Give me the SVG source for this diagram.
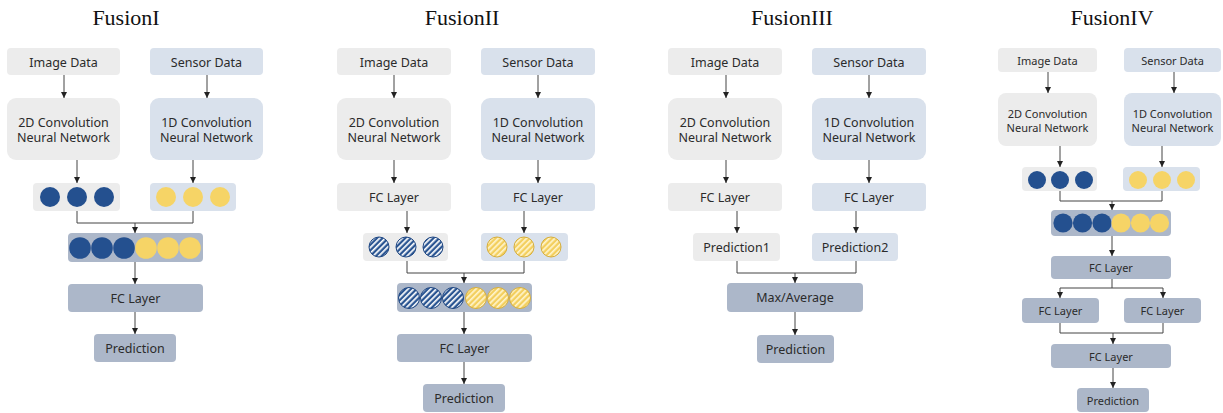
<svg xmlns="http://www.w3.org/2000/svg" width="1223" height="413" viewBox="0 0 1223 413">
  <style>
    .title { font-family: "Liberation Serif", "Times New Roman", serif; font-size: 22px; fill: #111; text-anchor: middle; }
    .lbl { font-family: "Noto Sans", "Open Sans", sans-serif; font-size: 12.5px; fill: #2b2b2b; text-anchor: middle; dominant-baseline: central; }
    .sm { font-size: 11px; }
    .gray { fill: #ECECEC; }
    .lblue { fill: #D9E1EC; }
    .dark { fill: #ACB7C9; }
    .cb { fill: #24508F; }
    .cy { fill: #F6D466; }
    .hb { fill: url(#hatchBlue); stroke: #1F4783; stroke-width: 1; }
    .hy { fill: url(#hatchYellow); stroke: #D6AE3C; stroke-width: 1; }
    .conn path { fill: none; stroke: #444; stroke-width: 1; }
    .arr { marker-end: url(#arrow); }
  </style>
  <defs>
    <marker id="arrow" viewBox="0 0 6 6" refX="6" refY="3" markerWidth="6" markerHeight="6" markerUnits="userSpaceOnUse" orient="auto">
      <path d="M0,0 L6,3 L0,6 z" fill="#222"/>
    </marker>
    <pattern id="hatchBlue" width="4" height="4" patternUnits="userSpaceOnUse" patternTransform="rotate(45)">
      <rect width="4" height="4" fill="#2A5592"/>
      <rect width="1.7" height="4" fill="#FFFFFF"/>
    </pattern>
    <pattern id="hatchYellow" width="4" height="4" patternUnits="userSpaceOnUse" patternTransform="rotate(45)">
      <rect width="4" height="4" fill="#F3CF5E"/>
      <rect width="1.7" height="4" fill="#FFF4CC"/>
    </pattern>
  </defs>

  <rect width="1223" height="413" fill="#FFFFFF"/>

  <!-- titles -->
  <text class="title" x="126" y="25">FusionI</text>
  <text class="title" x="462" y="25">FusionII</text>
  <text class="title" x="792" y="25">FusionIII</text>
  <text class="title" x="1112" y="25">FusionIV</text>

  <!-- ===== Fusion I ===== -->
  <g id="f1-image"><rect class="gray" x="7" y="48" width="113" height="27" rx="4"/><text class="lbl" x="63.5" y="62">Image Data</text></g>
  <g id="f1-sensor"><rect class="lblue" x="150" y="48" width="113" height="27" rx="4"/><text class="lbl" x="206.5" y="62">Sensor Data</text></g>
  <g id="f1-cnn2d"><rect class="gray" x="7" y="98" width="113" height="62" rx="9"/><text class="lbl" x="63.5" y="122">2D Convolution</text><text class="lbl" x="63.5" y="137">Neural Network</text></g>
  <g id="f1-cnn1d"><rect class="lblue" x="150" y="98" width="113" height="62" rx="9"/><text class="lbl" x="206.5" y="122">1D Convolution</text><text class="lbl" x="206.5" y="137">Neural Network</text></g>
  <g id="f1-featA"><rect class="gray" x="33" y="183" width="87" height="28" rx="4"/><circle class="cb" cx="50" cy="197" r="10"/><circle class="cb" cx="77" cy="197" r="10"/><circle class="cb" cx="104" cy="197" r="10"/></g>
  <g id="f1-featB"><rect class="lblue" x="150" y="183" width="86" height="28" rx="4"/><circle class="cy" cx="166" cy="197" r="10"/><circle class="cy" cx="193" cy="197" r="10"/><circle class="cy" cx="220" cy="197" r="10"/></g>
  <g id="f1-concat"><rect class="dark" x="68" y="233" width="135" height="29" rx="4"/>
    <circle class="cb" cx="80" cy="248" r="10.8"/><circle class="cb" cx="102" cy="248" r="10.8"/><circle class="cb" cx="124" cy="248" r="10.8"/>
    <circle class="cy" cx="146" cy="248" r="10.8"/><circle class="cy" cx="168" cy="248" r="10.8"/><circle class="cy" cx="190" cy="248" r="10.8"/></g>
  <g id="f1-fc"><rect class="dark" x="68" y="284" width="135" height="28" rx="4"/><text class="lbl" x="135.5" y="298">FC Layer</text></g>
  <g id="f1-pred"><rect class="dark" x="94" y="334" width="82" height="28" rx="4"/><text class="lbl" x="135" y="348">Prediction</text></g>

  <!-- ===== Fusion II ===== -->
  <g id="f2-image"><rect class="gray" x="337" y="48" width="114" height="27" rx="4"/><text class="lbl" x="394" y="62">Image Data</text></g>
  <g id="f2-sensor"><rect class="lblue" x="481" y="48" width="114" height="27" rx="4"/><text class="lbl" x="538" y="62">Sensor Data</text></g>
  <g id="f2-cnn2d"><rect class="gray" x="337" y="98" width="114" height="62" rx="9"/><text class="lbl" x="394" y="122">2D Convolution</text><text class="lbl" x="394" y="137">Neural Network</text></g>
  <g id="f2-cnn1d"><rect class="lblue" x="481" y="98" width="114" height="62" rx="9"/><text class="lbl" x="538" y="122">1D Convolution</text><text class="lbl" x="538" y="137">Neural Network</text></g>
  <g id="f2-fcA"><rect class="gray" x="337" y="183" width="114" height="28" rx="4"/><text class="lbl" x="394" y="197">FC Layer</text></g>
  <g id="f2-fcB"><rect class="lblue" x="481" y="183" width="114" height="28" rx="4"/><text class="lbl" x="538" y="197">FC Layer</text></g>
  <g id="f2-featA"><rect class="gray" x="363" y="233" width="85" height="28" rx="4"/><circle class="hb" cx="379" cy="247" r="10"/><circle class="hb" cx="406" cy="247" r="10"/><circle class="hb" cx="433" cy="247" r="10"/></g>
  <g id="f2-featB"><rect class="lblue" x="481" y="233" width="87" height="28" rx="4"/><circle class="hy" cx="497" cy="247" r="10"/><circle class="hy" cx="524" cy="247" r="10"/><circle class="hy" cx="551" cy="247" r="10"/></g>
  <g id="f2-concat"><rect class="dark" x="397" y="283" width="135" height="29" rx="4"/>
    <circle class="hb" cx="409" cy="298" r="10.5"/><circle class="hb" cx="431" cy="298" r="10.5"/><circle class="hb" cx="453" cy="298" r="10.5"/>
    <circle class="hy" cx="476" cy="298" r="10.5"/><circle class="hy" cx="498" cy="298" r="10.5"/><circle class="hy" cx="520" cy="298" r="10.5"/></g>
  <g id="f2-fc"><rect class="dark" x="397" y="334" width="135" height="28" rx="4"/><text class="lbl" x="464.5" y="348">FC Layer</text></g>
  <g id="f2-pred"><rect class="dark" x="423" y="384" width="82" height="28" rx="4"/><text class="lbl" x="464" y="398">Prediction</text></g>

  <!-- ===== Fusion III ===== -->
  <g id="f3-image"><rect class="gray" x="668" y="48" width="114" height="27" rx="4"/><text class="lbl" x="725" y="62">Image Data</text></g>
  <g id="f3-sensor"><rect class="lblue" x="812" y="48" width="114" height="27" rx="4"/><text class="lbl" x="869" y="62">Sensor Data</text></g>
  <g id="f3-cnn2d"><rect class="gray" x="668" y="98" width="114" height="62" rx="9"/><text class="lbl" x="725" y="122">2D Convolution</text><text class="lbl" x="725" y="137">Neural Network</text></g>
  <g id="f3-cnn1d"><rect class="lblue" x="812" y="98" width="114" height="62" rx="9"/><text class="lbl" x="869" y="122">1D Convolution</text><text class="lbl" x="869" y="137">Neural Network</text></g>
  <g id="f3-fcA"><rect class="gray" x="668" y="183" width="114" height="28" rx="4"/><text class="lbl" x="725" y="197">FC Layer</text></g>
  <g id="f3-fcB"><rect class="lblue" x="812" y="183" width="114" height="28" rx="4"/><text class="lbl" x="869" y="197">FC Layer</text></g>
  <g id="f3-pred1"><rect class="gray" x="693" y="233" width="87" height="28" rx="4"/><text class="lbl" x="736.5" y="247">Prediction1</text></g>
  <g id="f3-pred2"><rect class="lblue" x="812" y="233" width="86" height="28" rx="4"/><text class="lbl" x="855" y="247">Prediction2</text></g>
  <g id="f3-merge"><rect class="dark" x="727" y="283" width="136" height="29" rx="4"/><text class="lbl" x="795" y="297.5">Max/Average</text></g>
  <g id="f3-pred"><rect class="dark" x="757" y="335" width="77" height="28" rx="4"/><text class="lbl" x="795.5" y="349">Prediction</text></g>

  <!-- ===== Fusion IV ===== -->
  <g id="f4-image"><rect class="gray" x="998" y="48" width="99" height="24" rx="4"/><text class="lbl sm" x="1047.5" y="60">Image Data</text></g>
  <g id="f4-sensor"><rect class="lblue" x="1124" y="48" width="97" height="24" rx="4"/><text class="lbl sm" x="1172.5" y="60">Sensor Data</text></g>
  <g id="f4-cnn2d"><rect class="gray" x="998" y="93" width="99" height="53" rx="8"/><text class="lbl sm" x="1047.5" y="113">2D Convolution</text><text class="lbl sm" x="1047.5" y="127">Neural Network</text></g>
  <g id="f4-cnn1d"><rect class="lblue" x="1124" y="93" width="97" height="53" rx="8"/><text class="lbl sm" x="1172.5" y="113">1D Convolution</text><text class="lbl sm" x="1172.5" y="127">Neural Network</text></g>
  <g id="f4-featA"><rect class="gray" x="1022" y="167" width="75" height="24" rx="4"/><circle class="cb" cx="1037" cy="180" r="9"/><circle class="cb" cx="1060" cy="180" r="9"/><circle class="cb" cx="1084" cy="180" r="9"/></g>
  <g id="f4-featB"><rect class="lblue" x="1123" y="167" width="77" height="24" rx="4"/><circle class="cy" cx="1138" cy="180" r="9"/><circle class="cy" cx="1162" cy="180" r="9"/><circle class="cy" cx="1186" cy="180" r="9"/></g>
  <g id="f4-concat"><rect class="dark" x="1051" y="210" width="120" height="26" rx="4"/>
    <circle class="cb" cx="1063" cy="223" r="9.6"/><circle class="cb" cx="1082.5" cy="223" r="9.6"/><circle class="cb" cx="1102" cy="223" r="9.6"/>
    <circle class="cy" cx="1121" cy="223" r="9.6"/><circle class="cy" cx="1140.5" cy="223" r="9.6"/><circle class="cy" cx="1159.5" cy="223" r="9.6"/></g>
  <g id="f4-fc1"><rect class="dark" x="1051" y="256" width="120" height="23" rx="4"/><text class="lbl sm" x="1111" y="267.5">FC Layer</text></g>
  <g id="f4-fcA"><rect class="dark" x="1022" y="298" width="77" height="25" rx="4"/><text class="lbl sm" x="1060.5" y="310.5">FC Layer</text></g>
  <g id="f4-fcB"><rect class="dark" x="1124" y="298" width="77" height="25" rx="4"/><text class="lbl sm" x="1162.5" y="310.5">FC Layer</text></g>
  <g id="f4-fc2"><rect class="dark" x="1051" y="344" width="120" height="24" rx="4"/><text class="lbl sm" x="1111" y="356">FC Layer</text></g>
  <g id="f4-pred"><rect class="dark" x="1077" y="388" width="72" height="24" rx="4"/><text class="lbl sm" x="1113" y="400">Prediction</text></g>

  <!-- connectors -->
  <g id="connectors" class="conn">
    <!-- Fusion I -->
    <path class="arr" d="M64,75 V98"/>
    <path class="arr" d="M207,75 V98"/>
    <path class="arr" d="M77,160 V183"/>
    <path class="arr" d="M193,160 V183"/>
    <path d="M77,211 V223 H193 V211"/>
    <path class="arr" d="M135,223 V233"/>
    <path class="arr" d="M135,262 V284"/>
    <path class="arr" d="M135,312 V334"/>
    <!-- Fusion II -->
    <path class="arr" d="M394,75 V98"/>
    <path class="arr" d="M538,75 V98"/>
    <path class="arr" d="M394,160 V183"/>
    <path class="arr" d="M538,160 V183"/>
    <path class="arr" d="M407,211 V233"/>
    <path class="arr" d="M524,211 V233"/>
    <path d="M407,261 V273 H524 V261"/>
    <path class="arr" d="M464,273 V283"/>
    <path class="arr" d="M464,312 V334"/>
    <path class="arr" d="M464,362 V384"/>
    <!-- Fusion III -->
    <path class="arr" d="M726,75 V98"/>
    <path class="arr" d="M869,75 V98"/>
    <path class="arr" d="M726,160 V183"/>
    <path class="arr" d="M869,160 V183"/>
    <path class="arr" d="M737,211 V233"/>
    <path class="arr" d="M856,211 V233"/>
    <path d="M737,261 V273 H856 V261"/>
    <path class="arr" d="M795,273 V283"/>
    <path class="arr" d="M795,312 V335"/>
    <!-- Fusion IV -->
    <path class="arr" d="M1048,72 V93"/>
    <path class="arr" d="M1174,72 V93"/>
    <path class="arr" d="M1060,146 V167"/>
    <path class="arr" d="M1162,146 V167"/>
    <path d="M1060,191 V201 H1162 V191"/>
    <path class="arr" d="M1112,201 V210"/>
    <path class="arr" d="M1112,236 V256"/>
    <path class="arr" d="M1112,279 V288 H1060 V298"/>
    <path class="arr" d="M1112,288 H1163 V298"/>
    <path d="M1060,323 V333 H1163 V323"/>
    <path class="arr" d="M1113,333 V344"/>
    <path class="arr" d="M1113,368 V388"/>
  </g>
</svg>
